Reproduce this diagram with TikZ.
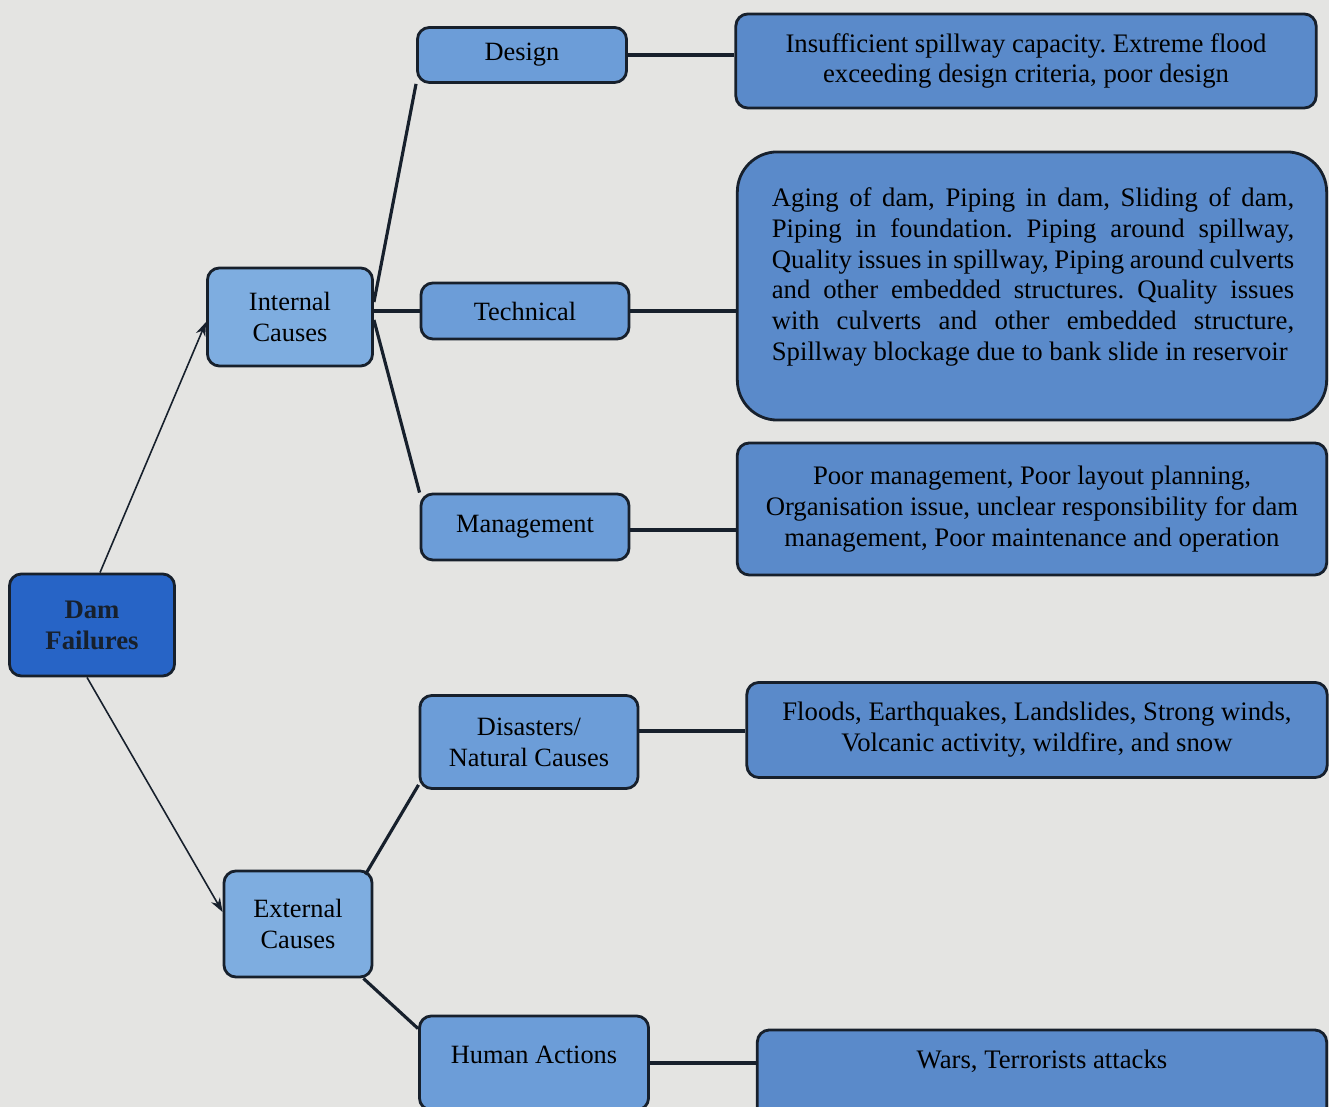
\documentclass[tikz,border=0pt]{standalone}
\usepackage{fontspec}
\setmainfont{Liberation Serif}
\usetikzlibrary{arrows.meta}
\frenchspacing
\definecolor{bg}{HTML}{E4E4E2}
\definecolor{rootfill}{HTML}{2764C6}
\definecolor{lvlA}{HTML}{7EADE0}
\definecolor{lvlB}{HTML}{6C9DD8}
\definecolor{descfill}{HTML}{5A8ACA}
\definecolor{edge}{HTML}{17202C}
\begin{document}
\begin{tikzpicture}[x=0.01cm,y=-0.01cm,
  base/.style={draw=edge, line width=0.8pt, rounded corners=0.12cm, align=center,
    inner sep=0pt, font=\fontsize{7.5}{8.8}\selectfont, text=black},
  rootbox/.style={base, fill=rootfill, font=\bfseries\fontsize{7.6}{8.8}\selectfont, text=edge},
  lvlone/.style={base, fill=lvlA},
  lvltwo/.style={base, fill=lvlB},
  descbox/.style={base, fill=descfill, font=\fontsize{7.6}{8.8}\selectfont},
  txt/.style={inner sep=0pt, align=center},
  arr/.style={line width=0.45pt, draw=edge, -{Stealth[length=0.14cm,width=0.1cm]}},
  conn/.style={line width=0.9pt, draw=edge}]
\fill[bg] (0,0) rectangle (1329,1107);
\useasboundingbox (0,0) rectangle (1329,1107);
\clip (0,0) rectangle (1329,1107);

% root
\node[rootbox, minimum width=1.65cm, minimum height=1.02cm] (df) at (92,625) {Dam\\Failures};
% level one
\node[lvlone, minimum width=1.65cm, minimum height=0.98cm] (ic) at (290,317) {Internal\\Causes};
\node[lvlone, minimum width=1.48cm, minimum height=1.06cm] (ec) at (298,924) {External\\Causes};
% level two
\node[lvltwo, minimum width=2.09cm, minimum height=0.55cm] (ds) at (522,55) {Design};
\node[lvltwo, minimum width=2.08cm, minimum height=0.56cm] (tc) at (525,311) {Technical};
\node[lvltwo, minimum width=2.08cm, minimum height=0.66cm] (mg) at (525,527) {Management};
\node[lvltwo, minimum width=2.18cm, minimum height=0.93cm] (ns) at (529,742) {Disasters/\\Natural Causes};
\node[lvltwo, minimum width=2.29cm, minimum height=0.94cm] (ha) at (534,1063) {};
\node[txt, font=\fontsize{7.5}{8.8}\selectfont] (hat) at (534,1055) {Human Actions};
% descriptions
\node[descbox, minimum width=5.80cm, minimum height=0.94cm] (dd) at (1026,61)
  {Insufficient spillway capacity. Extreme flood\\exceeding design criteria, poor design};
\node[descbox, rounded corners=0.4cm, minimum width=5.89cm, minimum height=2.68cm] (td) at (1032,286) {};
\node[txt, text width=5.22cm, align=justify, font=\fontsize{7.6}{8.8}\selectfont] (tdt) at (1033,277)
  {Aging of dam, Piping in dam, Sliding of dam,\linebreak
   Piping in foundation. Piping around spillway,\linebreak
   Quality issues in spillway, Piping around culverts\linebreak
   and other embedded structures. Quality issues\linebreak
   with culverts and other embedded structure,\linebreak
   Spillway blockage due to bank slide in reservoir};
\node[descbox, minimum width=5.89cm, minimum height=1.32cm] (md) at (1032,509)
  {Poor management, Poor layout planning,\\Organisation issue, unclear responsibility for dam\\management, Poor maintenance and operation};
\node[descbox, minimum width=5.80cm, minimum height=0.95cm] (nd) at (1037,730)
  {Floods, Earthquakes, Landslides, Strong winds,\\Volcanic activity, wildfire, and snow};
\node[descbox, minimum width=5.69cm, minimum height=0.90cm] (hd) at (1042,1075) {};
\node[txt, font=\fontsize{7.6}{8.8}\selectfont] (hdt) at (1042,1061) {Wars, Terrorists attacks};

% arrows from root
\draw[arr] ([xshift=0.08cm]df.north) -- ([yshift=-0.05cm]ic.west);
\draw[arr] ([xshift=-0.05cm]df.south) -- ([yshift=0.12cm]ec.west);
% internal branches
\draw[conn] ([yshift=0.15cm]ic.east) -- (ds.south west);
\draw[conn] (ic.east |- tc.west) -- (tc.west);
\draw[conn] ([yshift=-0.03cm]ic.east) -- (mg.north west);
% external branches
\draw[conn] ([xshift=-0.08cm,yshift=-0.05cm]ec.north east) -- ([yshift=0.05cm]ns.south west);
\draw[conn] ([xshift=-0.1cm]ec.south east) -- ([yshift=-0.14cm]ha.north west);
% horizontal connectors
\draw[conn] (ds.east) -- (ds.east -| dd.west);
\draw[conn] (tc.east) -- (tc.east -| td.west);
\draw[conn] ([yshift=-0.03cm]mg.east) -- ([yshift=-0.03cm]mg.east -| md.west);
\draw[conn] ([yshift=0.11cm]ns.east) -- ([yshift=0.11cm]ns.east -| nd.west);
\draw[conn] (ha.east) -- (ha.east -| hd.west);
\end{tikzpicture}
\end{document}
